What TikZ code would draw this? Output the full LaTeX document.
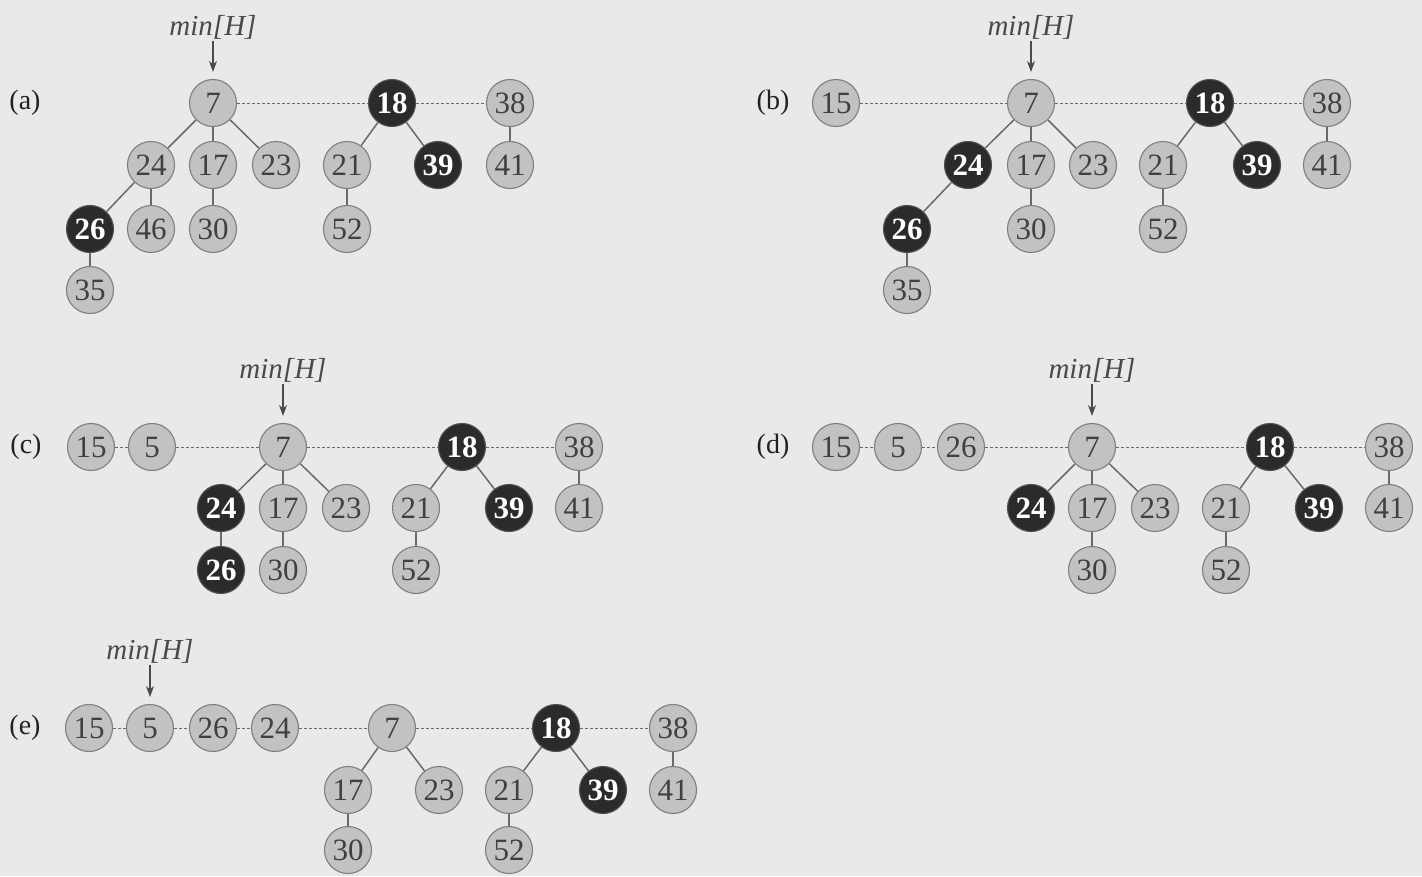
\documentclass[tikz,border=0pt]{standalone}
\usepackage{fontspec}
\setmainfont{Liberation Serif}
\usetikzlibrary{arrows.meta}
\definecolor{bgcol}{HTML}{E9E9E9}
\definecolor{nodefill}{HTML}{C2C2C2}
\definecolor{nodeedge}{HTML}{7E7E7E}
\definecolor{darkfill}{HTML}{2B2B2B}
\definecolor{darkedge}{HTML}{505050}
\definecolor{numtext}{HTML}{404040}
\definecolor{edgecol}{HTML}{6A6A6A}
\definecolor{labcol}{HTML}{222222}
\definecolor{ptrcol}{HTML}{4A4A4A}
\newcommand\numfnt{\fontsize{31}{33}\selectfont}
\newcommand\labfnt{\fontsize{28}{30}\selectfont}
\newcommand\minfnt{\fontsize{29}{31}\selectfont\itshape}
\tikzset{
  hn/.style={circle, draw=nodeedge, fill=nodefill, line width=1.1pt, minimum size=47pt, inner sep=0pt, text=numtext, font=\numfnt},
  dn/.style={hn, fill=darkfill, draw=darkedge, text=white, font=\numfnt\bfseries},
  tl/.style={draw=edgecol, line width=1.5pt},
  rl/.style={draw=edgecol, line width=0.9pt, dash pattern=on 3pt off 2pt},
  lab/.style={font=\labfnt, text=labcol, inner sep=0pt},
  mintxt/.style={font=\minfnt, text=ptrcol, inner sep=2pt},
  ptr/.style={-{Stealth[length=11pt,width=8pt]}, draw=ptrcol, line width=1.2pt, shorten >=7pt}
}
\begin{document}
\begin{tikzpicture}[x=1pt,y=-1pt]
\fill[bgcol] (0,0) rectangle (1422,876);
\useasboundingbox (0,0) rectangle (1422,876);

% ---------- (a) ----------
\node[lab] (la) at (25,103) {(a)};
\node[hn] (a7) at (213,103) {7};
\node[dn] (a18) at (392,103) {18};
\node[hn] (a38) at (510,103) {38};
\node[hn] (a24) at (151,165) {24};
\node[hn] (a17) at (213,165) {17};
\node[hn] (a23) at (276,165) {23};
\node[hn] (a21) at (347,165) {21};
\node[dn] (a39) at (438,165) {39};
\node[hn] (a41) at (510,165) {41};
\node[dn] (a26) at (90,229) {26};
\node[hn] (a46) at (151,229) {46};
\node[hn] (a30) at (213,229) {30};
\node[hn] (a52) at (347,229) {52};
\node[hn] (a35) at (90,290) {35};
\node[mintxt] (ma) at (213,27) {min[H]};
\draw[ptr] (ma) -- (a7);
\draw[rl] (a7) -- (a18);
\draw[rl] (a18) -- (a38);
\draw[tl] (a7) -- (a24); \draw[tl] (a7) -- (a17); \draw[tl] (a7) -- (a23);
\draw[tl] (a18) -- (a21); \draw[tl] (a18) -- (a39); \draw[tl] (a38) -- (a41);
\draw[tl] (a24) -- (a26); \draw[tl] (a24) -- (a46); \draw[tl] (a17) -- (a30);
\draw[tl] (a21) -- (a52); \draw[tl] (a26) -- (a35);

% ---------- (b) ----------
\node[lab] (lb) at (773,103) {(b)};
\node[hn] (b15) at (836,103) {15};
\node[hn] (b7) at (1031,103) {7};
\node[dn] (b18) at (1210,103) {18};
\node[hn] (b38) at (1327,103) {38};
\node[dn] (b24) at (968,165) {24};
\node[hn] (b17) at (1031,165) {17};
\node[hn] (b23) at (1093,165) {23};
\node[hn] (b21) at (1163,165) {21};
\node[dn] (b39) at (1257,165) {39};
\node[hn] (b41) at (1327,165) {41};
\node[dn] (b26) at (907,229) {26};
\node[hn] (b30) at (1031,229) {30};
\node[hn] (b52) at (1163,229) {52};
\node[hn] (b35) at (907,290) {35};
\node[mintxt] (mb) at (1031,27) {min[H]};
\draw[ptr] (mb) -- (b7);
\draw[rl] (b15) -- (b7);
\draw[rl] (b7) -- (b18);
\draw[rl] (b18) -- (b38);
\draw[tl] (b7) -- (b24); \draw[tl] (b7) -- (b17); \draw[tl] (b7) -- (b23);
\draw[tl] (b18) -- (b21); \draw[tl] (b18) -- (b39); \draw[tl] (b38) -- (b41);
\draw[tl] (b24) -- (b26); \draw[tl] (b17) -- (b30);
\draw[tl] (b21) -- (b52); \draw[tl] (b26) -- (b35);

% ---------- (c) ----------
\node[lab] (lc) at (26,447) {(c)};
\node[hn] (c15) at (91,447) {15};
\node[hn] (c5) at (152,447) {5};
\node[hn] (c7) at (283,447) {7};
\node[dn] (c18) at (462,447) {18};
\node[hn] (c38) at (579,447) {38};
\node[dn] (c24) at (221,508) {24};
\node[hn] (c17) at (283,508) {17};
\node[hn] (c23) at (346,508) {23};
\node[hn] (c21) at (416,508) {21};
\node[dn] (c39) at (509,508) {39};
\node[hn] (c41) at (579,508) {41};
\node[dn] (c26) at (221,570) {26};
\node[hn] (c30) at (283,570) {30};
\node[hn] (c52) at (416,570) {52};
\node[mintxt] (mc) at (283,370) {min[H]};
\draw[ptr] (mc) -- (c7);
\draw[rl] (c15) -- (c5);
\draw[rl] (c5) -- (c7);
\draw[rl] (c7) -- (c18);
\draw[rl] (c18) -- (c38);
\draw[tl] (c7) -- (c24); \draw[tl] (c7) -- (c17); \draw[tl] (c7) -- (c23);
\draw[tl] (c18) -- (c21); \draw[tl] (c18) -- (c39); \draw[tl] (c38) -- (c41);
\draw[tl] (c24) -- (c26); \draw[tl] (c17) -- (c30); \draw[tl] (c21) -- (c52);

% ---------- (d) ----------
\node[lab] (ld) at (773,447) {(d)};
\node[hn] (d15) at (836,447) {15};
\node[hn] (d5) at (898,447) {5};
\node[hn] (d26) at (961,447) {26};
\node[hn] (d7) at (1092,447) {7};
\node[dn] (d18) at (1270,447) {18};
\node[hn] (d38) at (1389,447) {38};
\node[dn] (d24) at (1031,508) {24};
\node[hn] (d17) at (1092,508) {17};
\node[hn] (d23) at (1155,508) {23};
\node[hn] (d21) at (1226,508) {21};
\node[dn] (d39) at (1319,508) {39};
\node[hn] (d41) at (1389,508) {41};
\node[hn] (d30) at (1092,570) {30};
\node[hn] (d52) at (1226,570) {52};
\node[mintxt] (md) at (1092,370) {min[H]};
\draw[ptr] (md) -- (d7);
\draw[rl] (d15) -- (d5);
\draw[rl] (d5) -- (d26);
\draw[rl] (d26) -- (d7);
\draw[rl] (d7) -- (d18);
\draw[rl] (d18) -- (d38);
\draw[tl] (d7) -- (d24); \draw[tl] (d7) -- (d17); \draw[tl] (d7) -- (d23);
\draw[tl] (d18) -- (d21); \draw[tl] (d18) -- (d39); \draw[tl] (d38) -- (d41);
\draw[tl] (d17) -- (d30); \draw[tl] (d21) -- (d52);

% ---------- (e) ----------
\node[lab] (le) at (25,728) {(e)};
\node[hn] (e15) at (89,728) {15};
\node[hn] (e5) at (150,728) {5};
\node[hn] (e26) at (213,728) {26};
\node[hn] (e24) at (275,728) {24};
\node[hn] (e7) at (392,728) {7};
\node[dn] (e18) at (556,728) {18};
\node[hn] (e38) at (673,728) {38};
\node[hn] (e17) at (348,790) {17};
\node[hn] (e23) at (439,790) {23};
\node[hn] (e21) at (509,790) {21};
\node[dn] (e39) at (603,790) {39};
\node[hn] (e41) at (673,790) {41};
\node[hn] (e30) at (348,850) {30};
\node[hn] (e52) at (509,850) {52};
\node[mintxt] (me) at (150,651) {min[H]};
\draw[ptr] (me) -- (e5);
\draw[rl] (e15) -- (e5);
\draw[rl] (e5) -- (e26);
\draw[rl] (e26) -- (e24);
\draw[rl] (e24) -- (e7);
\draw[rl] (e7) -- (e18);
\draw[rl] (e18) -- (e38);
\draw[tl] (e7) -- (e17); \draw[tl] (e7) -- (e23);
\draw[tl] (e18) -- (e21); \draw[tl] (e18) -- (e39); \draw[tl] (e38) -- (e41);
\draw[tl] (e17) -- (e30); \draw[tl] (e21) -- (e52);
\end{tikzpicture}
\end{document}
